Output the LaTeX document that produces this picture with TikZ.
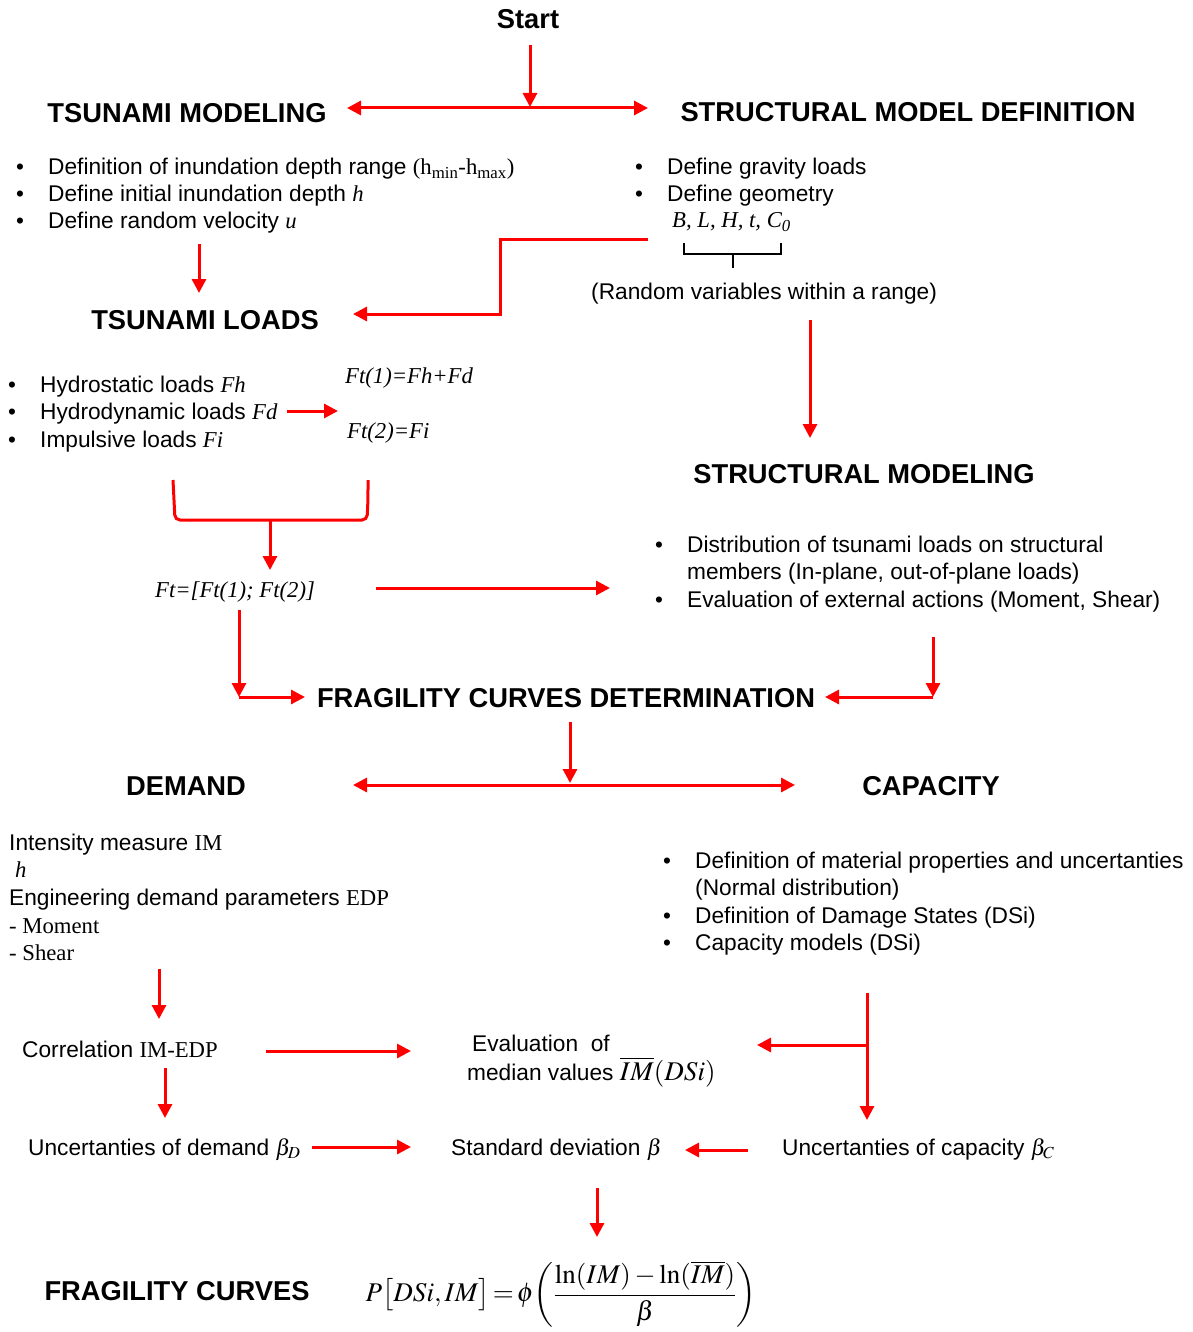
\documentclass[tikz,border=0pt]{standalone}
\usepackage{mathptmx}
\usepackage[no-math]{fontspec}
\setmainfont{Liberation Sans}
\newfontfamily\tms{Liberation Serif}
\usetikzlibrary{arrows.meta}
\newcommand\ti[1]{{\tms\itshape #1}}
\newcommand\tr[1]{{\tms #1}}
\tikzset{
  arr/.style={draw=red, line width=3pt, -{Triangle[length=14pt,width=14pt]}},
  dbl/.style={draw=red, line width=3pt, {Triangle[length=14pt,width=14pt]}-{Triangle[length=14pt,width=14pt]}},
  ln/.style={draw=red, line width=3pt},
  txt/.style={inner sep=0pt, anchor=base west, font=\fontsize{22.7}{27}\selectfont},
  hd/.style={inner sep=0pt, anchor=base, font=\fontsize{27.3}{30}\selectfont\bfseries},
  bul/.style={inner sep=0pt, anchor=base, font=\fontsize{22.5}{27}\selectfont},
}
\begin{document}
\begin{tikzpicture}[x=1pt,y=-1pt]
\useasboundingbox[fill=white] (0,0) rectangle (1192,1332);

% headings
\node[hd] (start) at (528,29) {Start};
\node[hd] (tmod) at (187,123) {TSUNAMI MODELING};
\node[hd] (smd) at (908,122) {STRUCTURAL MODEL DEFINITION};
\node[hd] (tload) at (205,329) {TSUNAMI LOADS};
\node[hd] (smod) at (864,483) {STRUCTURAL MODELING};
\node[hd] (fcd) at (566,707) {FRAGILITY CURVES DETERMINATION};
\node[hd] (dem) at (186,795) {DEMAND};
\node[hd] (cap) at (931,795) {CAPACITY};
\node[hd] (fc) at (177,1300) {FRAGILITY CURVES};

% tsunami modeling bullets
\node[bul] (b1) at (20,175) {•};
\node[bul] (b2) at (20,202) {•};
\node[bul] (b3) at (20,229) {•};
\node[txt] (t1) at (48,175) {Definition of inundation depth range \tr{(h\textsubscript{min}-h\textsubscript{max})}};
\node[txt] (t2) at (48,202) {Define initial inundation depth \ti{h}};
\node[txt] (t3) at (48,229) {Define random velocity \ti{u}};

% structural model definition
\node[bul] (b4) at (639,175) {•};
\node[bul] (b5) at (639,202) {•};
\node[txt] (s1) at (667,175) {Define gravity loads};
\node[txt] (s2) at (667,202) {Define geometry};
\node[txt] (s3) at (672,228) {\ti{B, L, H, t, C\textsubscript{0}}};
\coordinate (brA) at (684,243);
\coordinate (brB) at (781,243);
\coordinate (brM) at (733,254);
\coordinate (brS) at (733,268);
\draw[line width=1.6pt] (brA) -- (684,254) -- (781,254) -- (brB);
\draw[line width=2.8pt] (brM) -- (brS);
\node[txt] (s4) at (591,299) {(Random variables within a range)};

% tsunami loads
\node[bul] (b6) at (12,392) {•};
\node[bul] (b7) at (12,419) {•};
\node[bul] (b8) at (12,447) {•};
\node[txt] (l1) at (40,392) {Hydrostatic loads \ti{Fh}};
\node[txt] (l2) at (40,419) {Hydrodynamic loads \ti{Fd}};
\node[txt] (l3) at (40,447) {Impulsive loads \ti{Fi}};
\node[txt] (f1) at (345,383) {\ti{Ft(1)=Fh+Fd}};
\node[txt] (f2) at (347,438) {\ti{Ft(2)=Fi}};
\node[txt] (ft) at (155,597) {\ti{Ft=[Ft(1); Ft(2)]}};

% structural modeling
\node[bul] (b9) at (659,552) {•};
\node[bul] (b10) at (659,607) {•};
\node[txt] (m1) at (687,552) {Distribution of tsunami loads on structural};
\node[txt] (m2) at (687,579) {members (In-plane, out-of-plane loads)};
\node[txt] (m3) at (687,607) {Evaluation of external actions (Moment, Shear)};

% demand
\node[txt] (d1) at (9,850) {Intensity measure \tr{IM}};
\node[txt] (d2) at (15,877) {\ti{h}};
\node[txt] (d3) at (9,905) {Engineering demand parameters \tr{EDP}};
\node[txt] (d4) at (9,933) {\tr{- Moment}};
\node[txt] (d5) at (9,960) {\tr{- Shear}};

% capacity
\node[bul] (b11) at (667,868) {•};
\node[bul] (b12) at (667,923) {•};
\node[bul] (b13) at (667,950) {•};
\node[txt] (c1) at (695,868) {Definition of material properties and uncertanties};
\node[txt] (c2) at (695,895) {(Normal distribution)};
\node[txt] (c3) at (695,923) {Definition of Damage States (DSi)};
\node[txt] (c4) at (695,950) {Capacity models (DSi)};

% lower part
\node[txt] (corr) at (22,1057) {Correlation \tr{IM-EDP}};
\node[txt] (ev1) at (472,1051) {Evaluation~ of};
\node[txt] (ev2) at (467,1080) {median values {\fontsize{27}{30}\selectfont$\overline{IM}(DSi)$}};
\node[txt] (ud) at (28,1155) {Uncertanties of demand $\beta_D$};
\node[txt] (sd) at (451,1155) {Standard deviation $\beta$};
\node[txt] (uc) at (782,1155) {Uncertanties of capacity $\beta_C$};
\node[inner sep=0pt, font=\fontsize{27}{30}\selectfont] (form) at (561,1294)
  {$\displaystyle P\big[DSi,IM\big]\!=\!\phi\!\left(\frac{\ln(IM)-\ln(\overline{IM})}{\beta}\right)$};

% connectors
\coordinate (p1a) at (530,45);  \coordinate (p1b) at (530,107);
\draw[arr] (p1a) -- (p1b);
\coordinate (p2a) at (347,108); \coordinate (p2b) at (648,108);
\draw[dbl] (p2a) -- (p2b);
\coordinate (p3a) at (199,244); \coordinate (p3b) at (199,293);
\draw[arr] (p3a) -- (p3b);
\coordinate (p4a) at (648,240); \coordinate (p4b) at (353,314);
\draw[arr] (p4a) -- (500,240) -- (500,314) -- (p4b);
\coordinate (p5a) at (810,320); \coordinate (p5b) at (810,438);
\draw[arr] (p5a) -- (p5b);
\coordinate (p6a) at (287,411); \coordinate (p6b) at (338,411);
\draw[arr] (p6a) -- (p6b);
\coordinate (p7a) at (173,480); \coordinate (p7b) at (368,480);
\draw[ln, rounded corners=5pt] (p7a) .. controls (174,500) .. (175,520) -- (367,520) .. controls (368,500) .. (p7b);
\coordinate (p8a) at (270,520); \coordinate (p8b) at (270,570);
\draw[arr] (p8a) -- (p8b);
\coordinate (p9a) at (376,588); \coordinate (p9b) at (610,588);
\draw[arr] (p9a) -- (p9b);
\coordinate (p10a) at (239,610); \coordinate (p10b) at (239,697); \coordinate (p10c) at (305,697);
\draw[arr] (p10a) -- (p10b);
\draw[arr] (p10b) -- (p10c);
\coordinate (p11a) at (933,637); \coordinate (p11b) at (933,697); \coordinate (p11c) at (825,697);
\draw[arr] (p11a) -- (p11b);
\draw[arr] (p11b) -- (p11c);
\coordinate (p12a) at (570,722); \coordinate (p12b) at (570,783);
\draw[arr] (p12a) -- (p12b);
\coordinate (p13a) at (353,785); \coordinate (p13b) at (795,785);
\draw[dbl] (p13a) -- (p13b);
\coordinate (p14a) at (159,969); \coordinate (p14b) at (159,1019);
\draw[arr] (p14a) -- (p14b);
\coordinate (p15a) at (266,1051); \coordinate (p15b) at (411,1051);
\draw[arr] (p15a) -- (p15b);
\coordinate (p16a) at (867,993); \coordinate (p16b) at (867,1120);
\coordinate (p16m) at (867,1045); \coordinate (p16c) at (757,1045);
\draw[arr] (p16a) -- (p16b);
\draw[arr] (p16m) -- (p16c);
\coordinate (p17a) at (165,1068); \coordinate (p17b) at (165,1118);
\draw[arr] (p17a) -- (p17b);
\coordinate (p18a) at (312,1147); \coordinate (p18b) at (411,1147);
\draw[arr] (p18a) -- (p18b);
\coordinate (p19a) at (748,1150); \coordinate (p19b) at (685,1150);
\draw[arr] (p19a) -- (p19b);
\coordinate (p20a) at (597,1188); \coordinate (p20b) at (597,1237);
\draw[arr] (p20a) -- (p20b);
\end{tikzpicture}
\end{document}
